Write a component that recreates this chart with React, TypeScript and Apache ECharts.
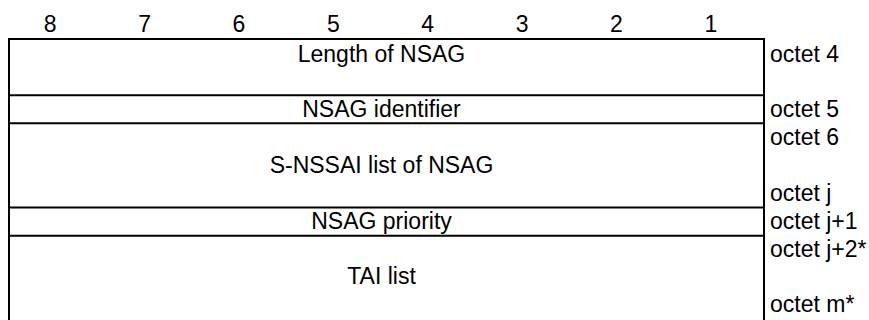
import React, { useEffect, useRef } from "react";
import * as echarts from "echarts";

// Bit numbers shown above the octet diagram (left = bit 8)
const bitLabels = ["8", "7", "6", "5", "4", "3", "2", "1"];
// Fields of the information element
const fieldNames = [
  "Length of NSAG",
  "NSAG identifier",
  "S-NSSAI list of NSAG",
  "NSAG priority",
  "TAI list",
];
// Line (row) at which each field's box starts
const fieldStartLines = [0, 2, 3, 6, 7];
// Line on which each field's name is written
const fieldTextLines = [0, 2, 4, 6, 8];
// Octet labels on the right and the line each is written on
const octetLabels = ["octet 4", "octet 5", "octet 6", "octet j", "octet j+1", "octet j+2*", "octet m*"];
const octetLines = [0, 2, 3, 5, 6, 7, 9];
const totalLines = 10;
const bitCount = 8;

const FONT = { fontSize: 23, fontFamily: '"Liberation Sans", Arial, sans-serif', fill: "#000" };

export default function App() {
  const ref = useRef<HTMLDivElement>(null);
  useEffect(() => {
    document.body.style.margin = "0";
    const chart = echarts.init(ref.current!, null, { renderer: "svg" });
    const lineStyle = { stroke: "#000", lineWidth: 2 };
    chart.setOption({
      animation: false,
      backgroundColor: "#fff",
      grid: [
        // box grid
        { left: 9, top: 39, width: 755, height: 285.7 },
        // text-line grid (line centres)
        { left: 9, top: 53.6, width: 755, height: 250.6 },
      ],
      xAxis: [
        { type: "value", min: 0, max: bitCount, show: false, gridIndex: 0 },
        { type: "value", min: 0, max: bitCount, show: false, gridIndex: 1 },
      ],
      yAxis: [
        { type: "value", min: 0, max: totalLines, inverse: true, show: false, gridIndex: 0 },
        { type: "value", min: 0, max: totalLines - 1, inverse: true, show: false, gridIndex: 1 },
      ],
      series: [
        {
          type: "custom",
          data: fieldStartLines.map((l) => [0, l]),
          renderItem: (params: any, api: any) => {
            const a = api.coord([0, api.value(1)]);
            const b = api.coord([bitCount, api.value(1)]);
            return { type: "line", shape: { x1: a[0] - 1, y1: a[1], x2: b[0] + 1, y2: b[1] }, style: lineStyle };
          },
        },
        {
          type: "custom",
          data: [[0, 0], [bitCount, 0]],
          renderItem: (params: any, api: any) => {
            const a = api.coord([api.value(0), 0]);
            const b = api.coord([api.value(0), totalLines]);
            return { type: "line", shape: { x1: a[0], y1: a[1] - 1, x2: b[0], y2: b[1] }, style: lineStyle };
          },
        },
        {
          type: "custom",
          data: bitLabels.map((_, i) => [i + 0.5, 0]),
          renderItem: (params: any, api: any) => {
            const p = api.coord([api.value(0), 0]);
            return {
              type: "text",
              x: p[0] - 6,
              y: p[1] - 15,
              style: { ...FONT, text: bitLabels[params.dataIndex], align: "center", verticalAlign: "middle" },
            };
          },
        },
        {
          type: "custom",
          xAxisIndex: 1,
          yAxisIndex: 1,
          data: fieldTextLines.map((l) => [bitCount / 2, l]),
          renderItem: (params: any, api: any) => {
            const p = api.coord([api.value(0), api.value(1)]);
            return {
              type: "text",
              x: p[0] - 5,
              y: p[1],
              style: { ...FONT, text: fieldNames[params.dataIndex], align: "center", verticalAlign: "middle" },
            };
          },
        },
        {
          type: "custom",
          xAxisIndex: 1,
          yAxisIndex: 1,
          data: octetLines.map((l) => [bitCount, l]),
          renderItem: (params: any, api: any) => {
            const p = api.coord([api.value(0), api.value(1)]);
            return {
              type: "text",
              x: p[0] + 6,
              y: p[1],
              style: { ...FONT, text: octetLabels[params.dataIndex], align: "left", verticalAlign: "middle" },
            };
          },
        },
      ],
    });
    return () => chart.dispose();
  }, []);
  return (
    <div
      ref={ref}
      style={{ position: "fixed", left: 0, top: 0, width: 869, height: 320, background: "#fff" }}
    />
  );
}
